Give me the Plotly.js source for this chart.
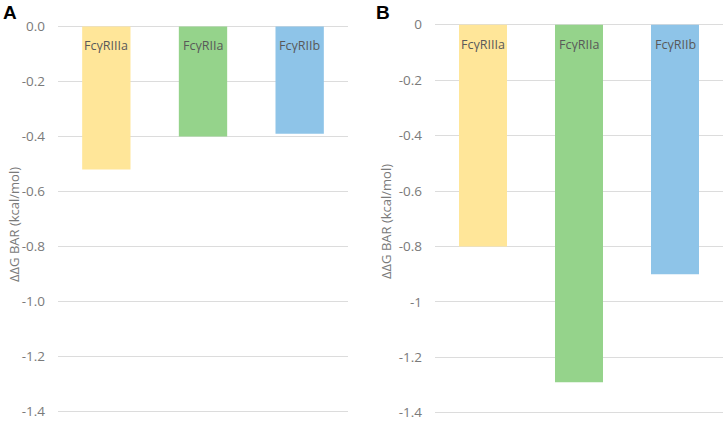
<!DOCTYPE html>
<html>
<head>
<meta charset="utf-8">
<script src="https://cdn.plot.ly/plotly-3.0.1.min.js"></script>
<style>
  html, body { margin: 0; padding: 0; background: #fff; }
  #chart { width: 726px; height: 421px; }
</style>
</head>
<body>
<div id="chart"></div>
<script>
// receptors, same order in both panels
var receptors = ['FcγRIIIa', 'FcγRIIa', 'FcγRIIb'];
var barColors = ['#FFE699', '#95D38B', '#8EC4E8'];

// ΔΔG BAR values (kcal/mol)
var ddgA = [-0.52, -0.40, -0.39];
var ddgB = [-0.80, -1.29, -0.90];

var yTicks = [0, -0.2, -0.4, -0.6, -0.8, -1.0, -1.2, -1.4];
var tickTextA = ['0.0', '-0.2', '-0.4', '-0.6', '-0.8', '-1.0', '-1.2', '-1.4'];
var tickTextB = ['0', '-0.2', '-0.4', '-0.6', '-0.8', '-1', '-1.2', '-1.4'];

var labelFont = {family: 'Open Sans, sans-serif', size: 12.5, color: '#595959'};
var tickFont = {family: 'Open Sans, sans-serif', size: 13.5, color: '#7a7a7a'};
var titleFont = {family: 'Open Sans, sans-serif', size: 13, color: '#7a7a7a'};
var panelFont = {family: 'Liberation Sans, Arial, sans-serif', size: 19, color: '#000'};

var panelA = {
  x: receptors, y: ddgA, type: 'bar',
  xaxis: 'x', yaxis: 'y',
  width: 0.5,
  marker: {color: barColors},
  hoverinfo: 'x+y'
};
var panelB = {
  x: receptors, y: ddgB, type: 'bar',
  xaxis: 'x2', yaxis: 'y2',
  width: 0.5,
  marker: {color: barColors},
  hoverinfo: 'x+y'
};

// receptor names written inside the bars, just under zero
var annotations = [];
receptors.forEach(function (name) {
  annotations.push({x: name, y: -0.07, xref: 'x', yref: 'y', text: name,
    showarrow: false, font: labelFont});
  annotations.push({x: name, y: -0.07, xref: 'x2', yref: 'y2', text: name,
    showarrow: false, font: labelFont});
});

function paperText(px, py, text, font, angle) {
  return {x: px / 726, y: 1 - py / 421, xref: 'paper', yref: 'paper',
    xanchor: 'center', yanchor: 'middle', text: text, textangle: angle || 0,
    showarrow: false, font: font};
}
// panel letters and y axis titles
annotations.push(paperText(10, 13, '<b>A</b>', panelFont));
annotations.push(paperText(383, 13, '<b>B</b>', panelFont));
annotations.push(paperText(14, 225, 'ΔΔG BAR (kcal/mol)', titleFont, -90));
annotations.push(paperText(386, 222, 'ΔΔG BAR (kcal/mol)', titleFont, -90));

function yAxis(domain, ticktext, anchor) {
  return {
    domain: domain,
    anchor: anchor,
    range: [-1.41, 0.02],
    tickvals: yTicks,
    ticktext: ticktext,
    tickfont: tickFont,
    ticks: '',
    ticklabelstandoff: 12,
    ticklabeloverflow: 'allow',
    showgrid: true,
    gridcolor: '#dcdcdc',
    gridwidth: 1,
    zeroline: false,
    showline: false,
    fixedrange: true
  };
}

var layout = {
  width: 726,
  height: 421,
  margin: {l: 0, r: 0, t: 0, b: 0},
  paper_bgcolor: '#fff',
  plot_bgcolor: '#fff',
  showlegend: false,
  xaxis: {domain: [58 / 726, 348 / 726], anchor: 'y', showticklabels: false, showgrid: false, zeroline: false, fixedrange: true},
  xaxis2: {domain: [435 / 726, 723 / 726], anchor: 'y2', showticklabels: false, showgrid: false, zeroline: false, fixedrange: true},
  yaxis: yAxis([0.016, 0.9499], tickTextA, 'x'),
  yaxis2: yAxis([0.0131, 0.9544], tickTextB, 'x2'),
  annotations: annotations
};

Plotly.newPlot('chart', [panelA, panelB], layout, {displayModeBar: false, staticPlot: true});
</script>
</body>
</html>
